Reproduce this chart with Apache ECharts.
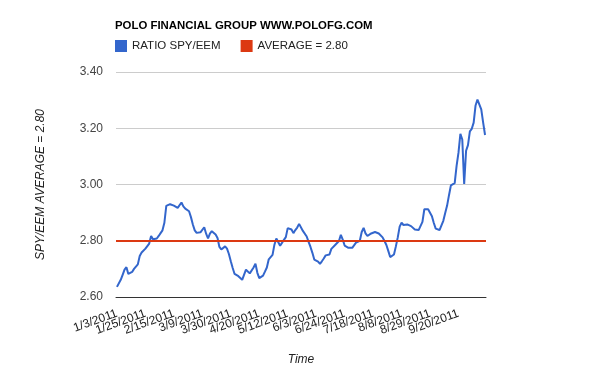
<!DOCTYPE html>
<html>
<head>
<meta charset="utf-8">
<script src="https://cdn.jsdelivr.net/npm/echarts@6/dist/echarts.min.js"></script>
<style>
html,body{margin:0;padding:0;background:#fff;}
#chart{width:600px;height:371px;}
</style>
</head>
<body>
<div id="chart"></div>
<script>
const TITLE = 'POLO FINANCIAL GROUP WWW.POLOFG.COM';
const SERIES_RATIO = 'RATIO SPY/EEM';
const SERIES_AVG = 'AVERAGE = 2.80';
const AVERAGE = 2.80;
const Y_NAME = 'SPY/EEM AVERAGE = 2.80';
const X_NAME = 'Time';
const LABEL_STEP = 15;

const dates = [
'1/3/2011','1/4/2011','1/5/2011','1/6/2011','1/7/2011','1/10/2011','1/11/2011','1/12/2011','1/13/2011','1/14/2011',
'1/18/2011','1/19/2011','1/20/2011','1/21/2011','1/24/2011','1/25/2011','1/26/2011','1/27/2011','1/28/2011','1/31/2011',
'2/1/2011','2/2/2011','2/3/2011','2/4/2011','2/7/2011','2/8/2011','2/9/2011','2/10/2011','2/11/2011','2/14/2011',
'2/15/2011','2/16/2011','2/17/2011','2/18/2011','2/22/2011','2/23/2011','2/24/2011','2/25/2011','2/28/2011',
'3/1/2011','3/2/2011','3/3/2011','3/4/2011','3/7/2011','3/8/2011','3/9/2011','3/10/2011','3/11/2011','3/14/2011','3/15/2011',
'3/16/2011','3/17/2011','3/18/2011','3/21/2011','3/22/2011','3/23/2011','3/24/2011','3/25/2011','3/28/2011','3/29/2011',
'3/30/2011','3/31/2011',
'4/1/2011','4/4/2011','4/5/2011','4/6/2011','4/7/2011','4/8/2011','4/11/2011','4/12/2011','4/13/2011','4/14/2011',
'4/15/2011','4/18/2011','4/19/2011','4/20/2011','4/21/2011','4/25/2011','4/26/2011','4/27/2011','4/28/2011','4/29/2011',
'5/2/2011','5/3/2011','5/4/2011','5/5/2011','5/6/2011','5/9/2011','5/10/2011','5/11/2011','5/12/2011','5/13/2011',
'5/16/2011','5/17/2011','5/18/2011','5/19/2011','5/20/2011','5/23/2011','5/24/2011','5/25/2011','5/26/2011','5/27/2011','5/31/2011',
'6/1/2011','6/2/2011','6/3/2011','6/6/2011','6/7/2011','6/8/2011','6/9/2011','6/10/2011','6/13/2011','6/14/2011',
'6/15/2011','6/16/2011','6/17/2011','6/20/2011','6/21/2011','6/22/2011','6/23/2011','6/24/2011','6/27/2011','6/28/2011',
'6/29/2011','6/30/2011',
'7/1/2011','7/5/2011','7/6/2011','7/7/2011','7/8/2011','7/11/2011','7/12/2011','7/13/2011','7/14/2011','7/15/2011',
'7/18/2011','7/19/2011','7/20/2011','7/21/2011','7/22/2011','7/25/2011','7/26/2011','7/27/2011','7/28/2011','7/29/2011',
'8/1/2011','8/2/2011','8/3/2011','8/4/2011','8/5/2011','8/8/2011','8/9/2011','8/10/2011','8/11/2011','8/12/2011',
'8/15/2011','8/16/2011','8/17/2011','8/18/2011','8/19/2011','8/22/2011','8/23/2011','8/24/2011','8/25/2011','8/26/2011',
'8/29/2011','8/30/2011','8/31/2011',
'9/1/2011','9/2/2011','9/6/2011','9/7/2011','9/8/2011','9/9/2011','9/12/2011','9/13/2011','9/14/2011','9/15/2011',
'9/16/2011','9/19/2011','9/20/2011','9/21/2011','9/22/2011','9/23/2011','9/26/2011','9/27/2011','9/28/2011','9/29/2011','9/30/2011',
'10/3/2011','10/4/2011','10/5/2011','10/6/2011','10/7/2011','10/10/2011'
];

const ratio = [
2.636,2.642,2.661,2.679,2.697,2.706,2.682,2.676,2.689,2.700,
2.702,2.716,2.746,2.758,2.765,2.772,2.770,2.790,2.817,2.805,
2.803,2.808,2.817,2.827,2.837,2.864,2.924,2.921,2.930,2.933,
2.925,2.922,2.917,2.921,2.936,2.922,2.914,2.907,2.905,2.884,
2.858,2.837,2.828,2.835,2.830,2.835,2.848,2.825,2.808,2.825,
2.834,2.830,2.822,2.810,2.778,2.769,2.773,2.780,2.772,2.753,
2.727,2.703,2.682,2.676,2.674,2.669,2.661,2.668,2.697,2.697,
2.684,2.682,2.705,2.718,2.686,2.667,2.663,2.676,2.690,2.705,
2.734,2.735,2.750,2.786,2.808,2.803,2.782,2.785,2.803,2.813,
2.845,2.849,2.840,2.827,2.838,2.847,2.860,2.855,2.835,2.840,
2.815,2.796,2.778,2.757,2.733,2.738,2.726,2.718,2.727,2.737,
2.748,2.750,2.751,2.771,2.776,2.785,2.781,2.799,2.821,2.804,
2.783,2.778,2.775,2.773,2.775,2.779,2.793,2.797,2.800,2.831,
2.846,2.826,2.817,2.821,2.826,2.831,2.831,2.826,2.826,2.822,
2.812,2.799,2.785,2.764,2.742,2.738,2.751,2.780,2.812,2.850,
2.864,2.856,2.851,2.858,2.857,2.852,2.846,2.840,2.846,2.838,
2.842,2.867,2.912,2.918,2.912,2.905,2.887,2.863,2.843,2.838,
2.838,2.845,2.871,2.899,2.925,2.962,2.997,3.000,3.005,3.066,
3.113,3.180,3.160,3.002,3.120,3.140,3.189,3.198,3.220,3.281,
3.302,3.300,3.267,3.220,3.176
];

const yTicks = { min: 2.6, max: 3.4, interval: 0.2 };

const FONT = 'Arial, "Liberation Sans", sans-serif';
const chart = echarts.init(document.getElementById('chart'), null, { renderer: 'canvas' });
chart.setOption({
  animation: false,
  backgroundColor: '#ffffff',
  textStyle: { fontFamily: FONT },
  title: {
    text: TITLE,
    left: 115, top: 20, padding: 0,
    textStyle: { fontSize: 11.4, fontWeight: 'bold', color: '#000', fontFamily: FONT }
  },
  legend: {
    left: 115, top: 40, padding: 0,
    itemWidth: 12, itemHeight: 12, itemGap: 20,
    icon: 'rect',
    textStyle: { fontSize: 11.5, color: '#222', fontFamily: FONT },
    data: [SERIES_RATIO, SERIES_AVG]
  },
  grid: { left: 116, right: 114, top: 72, bottom: 72, containLabel: false },
  xAxis: {
    type: 'category',
    data: dates,
    boundaryGap: true,
    name: X_NAME,
    nameLocation: 'middle',
    nameGap: 57,
    nameTextStyle: { fontStyle: 'italic', fontSize: 12, color: '#222', fontFamily: FONT },
    axisLine: { lineStyle: { color: '#333', width: 1 } },
    axisTick: { show: false },
    axisLabel: {
      interval: 0,
      formatter: (value, index) => (index % LABEL_STEP === 0 ? value : ''),
      rotate: 20, fontSize: 12, color: '#222', margin: 16, fontFamily: FONT
    },
    splitLine: { show: false }
  },
  yAxis: {
    type: 'value',
    min: yTicks.min, max: yTicks.max, interval: yTicks.interval,
    name: Y_NAME,
    nameLocation: 'middle',
    nameGap: 69,
    nameTextStyle: { fontStyle: 'italic', fontSize: 12, color: '#222', fontFamily: FONT },
    axisLine: { show: false },
    axisTick: { show: false },
    axisLabel: { fontSize: 12, color: '#444', margin: 13, formatter: v => v.toFixed(2), fontFamily: FONT },
    splitLine: { lineStyle: { color: '#cccccc', width: 1 } }
  },
  series: [
    {
      name: SERIES_RATIO,
      type: 'line',
      data: ratio,
      showSymbol: false,
      symbol: 'none',
      color: '#3366cc',
      lineStyle: { color: '#3366cc', width: 2 },
      z: 3
    },
    {
      name: SERIES_AVG,
      type: 'line',
      data: [],
      showSymbol: false,
      symbol: 'none',
      color: '#dc3912',
      lineStyle: { color: '#dc3912', width: 2 },
      z: 2,
      markLine: {
        silent: true,
        symbol: 'none',
        label: { show: false },
        lineStyle: { color: '#dc3912', width: 2, type: 'solid' },
        data: [{ yAxis: AVERAGE }]
      }
    }
  ]
});
</script>
</body>
</html>
